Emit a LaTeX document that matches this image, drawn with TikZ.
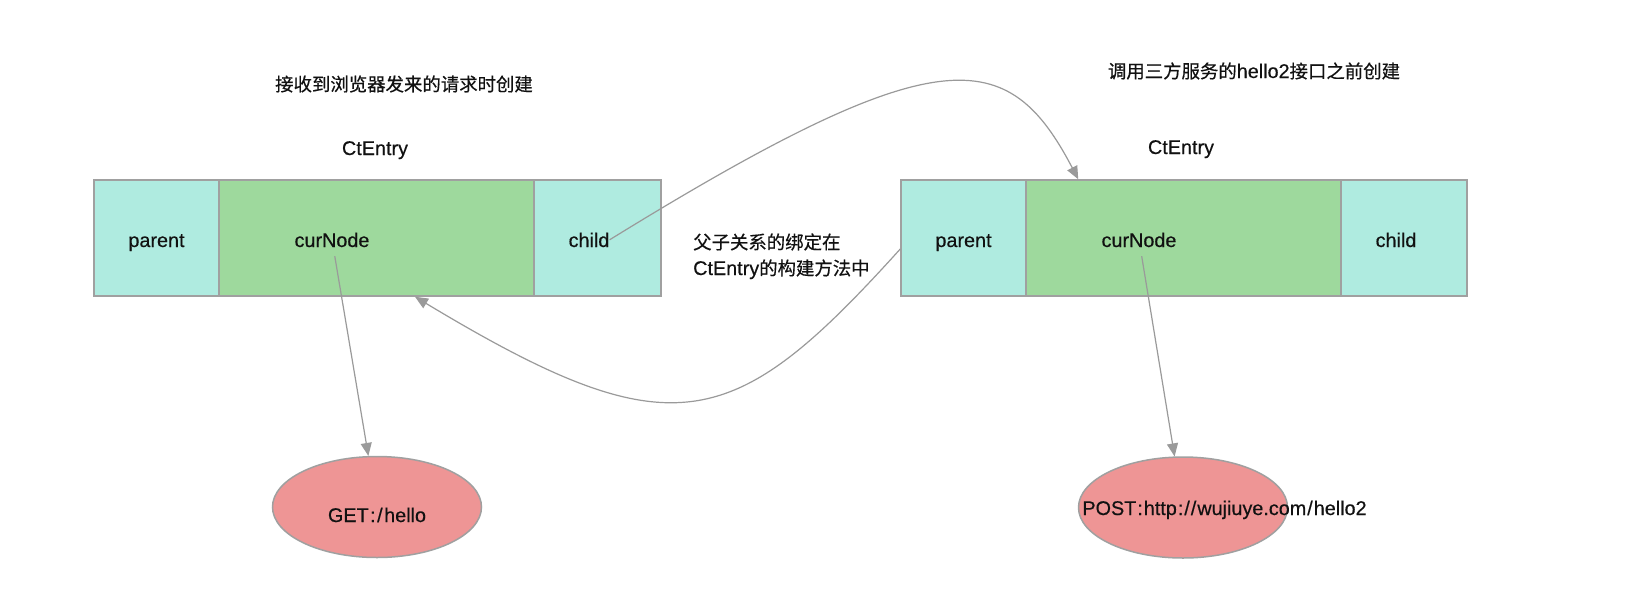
\documentclass[tikz,border=0pt]{standalone}
\usepackage{fontspec}
\setmainfont{Liberation Sans}[FakeBold=0.4]
\newfontfamily\cjkfont{Noto Sans CJK SC}[FakeBold=0.5]
\usetikzlibrary{arrows.meta,shapes.geometric}
\definecolor{cyanbox}{HTML}{AFEBE0}
\definecolor{greenbox}{HTML}{9ED99D}
\definecolor{redell}{HTML}{EE9595}
\definecolor{bordergray}{HTML}{A0A0A0}
\definecolor{linegray}{HTML}{9A9A9A}
\definecolor{txt}{HTML}{111111}
\newcommand\zhtxt[1]{{\cjkfont\fontsize{18.4}{26}\selectfont #1}}
\begin{document}
\begin{tikzpicture}[x=1pt,y=-1pt,
  every node/.style={text=txt,font=\fontsize{19.8}{26}\selectfont},
  cellbox/.style={draw=bordergray,line width=1.5pt,minimum height=116pt,inner sep=0pt},
  cyancell/.style={cellbox,fill=cyanbox},
  greencell/.style={cellbox,fill=greenbox},
  celllabel/.style={anchor=base,inner xsep=0pt,inner ysep=9pt,text depth=0pt},
  reqell/.style={ellipse,draw=bordergray,line width=1.5pt,fill=redell,minimum width=209pt,minimum height=101pt,inner sep=0pt},
  titletext/.style={anchor=base,inner sep=0pt},
  conn/.style={draw=linegray,line width=1.2pt,-{Triangle[length=13pt,width=11pt]}}
]
\fill[white] (0,0) rectangle (1652,606);
\useasboundingbox (0,0) rectangle (1652,606);

% titles
\node[titletext] (ltitle) at (404,91) {\zhtxt{接收到浏览器发来的请求时创建}};
\node[titletext] (rtitle) at (1254,78) {\zhtxt{调用三方服务的}hello2\zhtxt{接口之前创建}};
\node[titletext] (lct) at (375,155) {CtEntry};
\node[titletext] (rct) at (1181,154) {CtEntry};

% left entry
\node[cyancell,minimum width=125pt] (lpar) at (156.5,238) {};
\node[greencell,minimum width=315pt] (lcur) at (376.5,238) {};
\node[cyancell,minimum width=127pt] (lchi) at (597.5,238) {};
\node[celllabel] (lparl) at (156.5,247) {parent};
\node[celllabel] (lcurl) at (332,247) {curNode};
\node[celllabel] (lchil) at (589,247) {child};

% right entry
\node[cyancell,minimum width=125pt] (rpar) at (963.5,238) {};
\node[greencell,minimum width=315pt] (rcur) at (1183.5,238) {};
\node[cyancell,minimum width=126pt] (rchi) at (1404,238) {};
\node[celllabel] (rparl) at (963.5,247) {parent};
\node[celllabel] (rcurl) at (1139,247) {curNode};
\node[celllabel] (rchil) at (1396,247) {child};

% middle note
\node[anchor=base west,align=left,inner sep=0pt] (note) at (693,275)
  {\zhtxt{父子关系的绑定在}\\CtEntry\zhtxt{的构建方法中}};

% request ellipses
\node[reqell] (lreq) at (377,507) {};
\node[reqell] (rreq) at (1183,507.5) {};
\node[titletext] (lreqt) at (377,522) {GET\kern1.5pt:\kern1.5pt/\kern1.5pt hello};
\node[titletext] (rreqt) at (1224.5,515) {POST\kern1pt:\kern1pt http\kern1pt:\kern1pt/\kern1pt/\kern1pt wujiuye.com\kern1pt/\kern1pt hello2};

% connectors
\draw[conn] (lcurl) -- (lreq);
\draw[conn] (rcurl) -- (rreq);
\draw[conn] (lchil.east) .. controls (940,36) and (1008,45) .. ([xshift=53pt]rcur.north west);
\draw[conn] ([yshift=-11pt]rpar.west) .. controls (733,434) and (673,452) .. ([xshift=38.5pt]lcur.south);
\end{tikzpicture}
\end{document}
